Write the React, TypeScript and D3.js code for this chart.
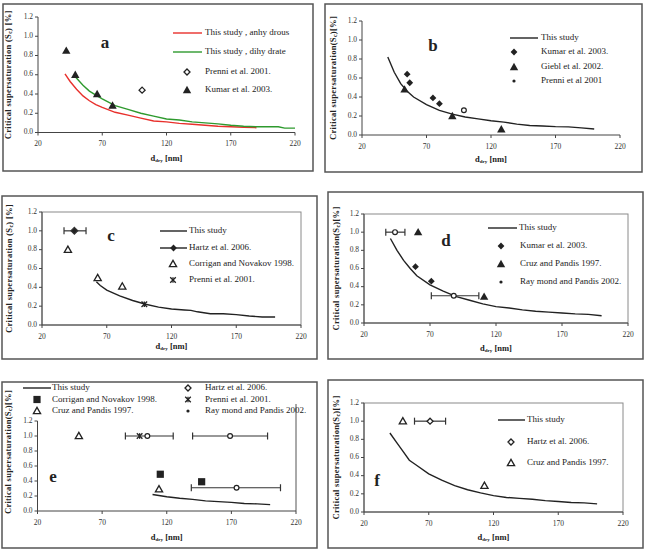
import * as d3 from "d3";

type Pt = [number, number];
type Bar = { x: number; y: number; lo: number; hi: number };

const X_TICKS = [20, 70, 120, 170, 220];
const Y_TICKS = [0, 0.2, 0.4, 0.6, 0.8, 1.0, 1.2];

// (a) model curves for both forms, plus measurements
const aAnhydrous: Pt[] = [
  [41, 0.61], [45, 0.53], [50, 0.45], [55, 0.38], [60, 0.33], [65, 0.29], [70, 0.26],
  [80, 0.21], [90, 0.18], [100, 0.15], [110, 0.12], [120, 0.11], [130, 0.095],
  [140, 0.085], [150, 0.075], [160, 0.065], [170, 0.06], [180, 0.055], [190, 0.05],
];
const aDihydrate: Pt[] = [
  [49, 0.58], [55, 0.49], [60, 0.43], [66, 0.38], [70, 0.35], [80, 0.28], [90, 0.24],
  [100, 0.2], [110, 0.17], [120, 0.14], [130, 0.13], [140, 0.11], [150, 0.1], [160, 0.09],
  [170, 0.075], [180, 0.065], [190, 0.06], [200, 0.06], [207, 0.06], [212, 0.045], [220, 0.045],
];
const aPrenni: Pt[] = [[101, 0.44]];
const aKumar: Pt[] = [[42, 0.85], [49, 0.6], [66, 0.4], [78, 0.28]];

// (b)
const bStudy: Pt[] = [
  [40, 0.82], [45, 0.66], [50, 0.54], [55, 0.46], [60, 0.4], [70, 0.32], [80, 0.26],
  [90, 0.22], [100, 0.19], [110, 0.17], [120, 0.15], [130, 0.135], [140, 0.115],
  [150, 0.1], [160, 0.095], [170, 0.088], [180, 0.085], [190, 0.075], [200, 0.063],
];
const bKumar: Pt[] = [[55, 0.64], [57, 0.55], [75, 0.39], [80, 0.33]];
const bGiebl: Pt[] = [[53, 0.48], [90, 0.2], [128, 0.06]];
const bPrenni: Pt[] = [[99, 0.26]];

// (c)
const cStudy: Pt[] = [
  [62, 0.46], [65, 0.42], [70, 0.37], [80, 0.31], [90, 0.26], [100, 0.22], [110, 0.19],
  [120, 0.17], [130, 0.16], [135, 0.155], [140, 0.14], [150, 0.12], [160, 0.12],
  [170, 0.11], [180, 0.095], [190, 0.085], [200, 0.085],
];
const cHartz: Bar[] = [{ x: 45, y: 1.0, lo: 37, hi: 54 }];
const cCorrigan: Pt[] = [[40, 0.8], [63, 0.5], [82, 0.41]];
const cPrenni: Pt[] = [[99, 0.22]];

// (d)
const dStudy: Pt[] = [
  [40, 0.93], [45, 0.8], [50, 0.69], [55, 0.6], [60, 0.52], [70, 0.42], [80, 0.35],
  [90, 0.29], [100, 0.25], [110, 0.21], [120, 0.18], [130, 0.165], [140, 0.145],
  [150, 0.13], [160, 0.12], [170, 0.11], [180, 0.1], [190, 0.095], [200, 0.08],
];
const dKumar: Pt[] = [[59, 0.62], [71, 0.46]];
const dCruz: Pt[] = [[61, 1.0], [111, 0.29]];
const dRaymond: Bar[] = [
  { x: 43.5, y: 1.0, lo: 36.5, hi: 51 },
  { x: 88, y: 0.3, lo: 71, hi: 107 },
];

// (e)
const eStudy: Pt[] = [
  [109, 0.22], [120, 0.19], [130, 0.17], [140, 0.155], [150, 0.135], [160, 0.125],
  [170, 0.115], [180, 0.1], [190, 0.095], [200, 0.085],
];
const eCorrigan: Pt[] = [[115, 0.49], [147, 0.39]];
const ePrenni: Pt[] = [[99, 1.0]];
const eCruz: Pt[] = [[52, 1.0], [114, 0.29]];
const eHartz: Bar[] = [
  { x: 105, y: 1.0, lo: 88, hi: 125 },
  { x: 169, y: 1.0, lo: 140, hi: 198 },
];
const eRaymond: Bar[] = [{ x: 174, y: 0.31, lo: 139, hi: 208 }];

// (f)
const fStudy: Pt[] = [
  [40, 0.87], [45, 0.77], [50, 0.67], [55, 0.57], [60, 0.52], [70, 0.42], [80, 0.35],
  [90, 0.29], [100, 0.245], [110, 0.21], [120, 0.18], [130, 0.16], [140, 0.15],
  [150, 0.14], [160, 0.125], [170, 0.115], [180, 0.105], [190, 0.1], [200, 0.09],
];
const fHartz: Bar[] = [{ x: 71, y: 1.0, lo: 59, hi: 83 }];
const fCruz: Pt[] = [[50, 1.0], [113, 0.29]];

const FONT = "'Liberation Serif', 'Times New Roman', serif";
const INK = "#222";

function Marker({ shape, x, y }: { shape: string; x: number; y: number }) {
  switch (shape) {
    case "triangle": {
      const s = 4.2;
      return <polygon points={`${x},${y - s} ${x + s},${y + s * 0.75} ${x - s},${y + s * 0.75}`} fill={INK} />;
    }
    case "triangleOpen": {
      const s = 3.6;
      return (
        <polygon points={`${x},${y - s} ${x + s},${y + s * 0.75} ${x - s},${y + s * 0.75}`}
          fill="white" stroke={INK} strokeWidth={1.3} />
      );
    }
    case "diamond": {
      const s = 3.4;
      return <polygon points={`${x},${y - s} ${x + s},${y} ${x},${y + s} ${x - s},${y}`} fill={INK} />;
    }
    case "diamondOpen": {
      const s = 3;
      return (
        <polygon points={`${x},${y - s} ${x + s},${y} ${x},${y + s} ${x - s},${y}`}
          fill="white" stroke={INK} strokeWidth={1.3} />
      );
    }
    case "circleOpen":
      return <circle cx={x} cy={y} r={2.4} fill="white" stroke={INK} strokeWidth={1.2} />;
    case "dot":
      return <circle cx={x} cy={y} r={1.6} fill={INK} />;
    case "square":
      return <rect x={x - 3.6} y={y - 3.6} width={7.2} height={7.2} fill={INK} />;
    case "star": {
      const s = 2.8;
      return (
        <g stroke={INK} strokeWidth={1.3}>
          <line x1={x - s} y1={y - s} x2={x + s} y2={y + s} />
          <line x1={x - s} y1={y + s} x2={x + s} y2={y - s} />
          <line x1={x} y1={y - s} x2={x} y2={y + s} />
        </g>
      );
    }
    default:
      return null;
  }
}

type Series =
  | { kind: "line"; data: Pt[]; color: string }
  | { kind: "points"; data: Pt[]; shape: string }
  | { kind: "bars"; data: Bar[]; shape: string };

type LegendItem = {
  label: string;
  y: number;
  tx: number;
  line?: [number, number];
  color?: string;
  shape?: string;
  mx?: number;
};

type PanelCfg = {
  tag: string;
  tagPos: [number, number];
  box: [number, number, number, number];
  plot: { left: number; right: number; top: number; bottom: number };
  frame: "none" | "full" | "right";
  frameTop?: number;
  yTitle: string;
  yTitleX: number;
  yTitleY?: number;
  xTitleY: number;
  series: Series[];
  legend: LegendItem[];
};

function YTitle({ x, y, text }: { x: number; y: number; text: string }) {
  const [pre, post] = text.split("|");
  return (
    <text transform={`rotate(-90, ${x}, ${y})`} x={x} y={y} textAnchor="middle" dominantBaseline="middle"
      fontFamily={FONT} fontWeight="bold" fontSize={8.5} letterSpacing={0.3} fill={INK}>
      {pre}
      <tspan fontSize={6} dy={2}>c</tspan>
      <tspan dy={-2}>{post}</tspan>
    </text>
  );
}

function Panel({ cfg }: { cfg: PanelCfg }) {
  const { plot } = cfg;
  const x = d3.scaleLinear().domain([20, 220]).range([plot.left, plot.right]);
  const y = d3.scaleLinear().domain([0, 1.2]).range([plot.bottom, plot.top]);
  const line = d3.line<Pt>().x((d) => x(d[0])).y((d) => y(d[1]));
  const fmt = d3.format(".1f");
  const [bx0, by0, bx1, by1] = cfg.box;
  const midX = (plot.left + plot.right) / 2;

  return (
    <g>
      <rect x={bx0} y={by0} width={bx1 - bx0} height={by1 - by0} fill="white" stroke="#555" strokeWidth={1.5} />

      {cfg.frame === "full" && (
        <rect x={plot.left} y={plot.top} width={plot.right - plot.left} height={plot.bottom - plot.top}
          fill="none" stroke="#8a8a8a" strokeWidth={1} />
      )}
      {cfg.frame === "right" && (
        <line x1={plot.right} x2={plot.right} y1={cfg.frameTop} y2={plot.bottom} stroke="#555" strokeWidth={1} />
      )}

      {/* axes */}
      <line x1={plot.left} x2={plot.left} y1={plot.top} y2={plot.bottom} stroke="#444" strokeWidth={1} />
      <line x1={plot.left} x2={plot.right} y1={plot.bottom} y2={plot.bottom} stroke="#444" strokeWidth={1} />
      {Y_TICKS.map((t) => (
        <g key={"y" + t}>
          <line x1={plot.left - 3} x2={plot.left} y1={y(t)} y2={y(t)} stroke="#444" />
          <text x={plot.left - 5} y={y(t)} textAnchor="end" dominantBaseline="middle"
            fontFamily={FONT} fontSize={7.5} fill="#333">{fmt(t)}</text>
        </g>
      ))}
      {X_TICKS.map((t) => (
        <g key={"x" + t}>
          <line x1={x(t)} x2={x(t)} y1={plot.bottom} y2={plot.bottom + 3} stroke="#444" />
          <text x={x(t)} y={plot.bottom + 12} textAnchor="middle" dominantBaseline="middle"
            fontFamily={FONT} fontSize={7.5} fill="#333">{t}</text>
        </g>
      ))}

      <YTitle x={cfg.yTitleX} y={cfg.yTitleY ?? (plot.top + plot.bottom) / 2} text={cfg.yTitle} />
      <text x={midX} y={cfg.xTitleY} textAnchor="middle" dominantBaseline="middle"
        fontFamily={FONT} fontWeight="bold" fontSize={8.5} fill={INK}>
        d<tspan fontSize={5} dy={2}>dry</tspan><tspan dy={-2}> [nm]</tspan>
      </text>

      {/* data */}
      {cfg.series.map((s, i) => {
        if (s.kind === "line")
          return <path key={i} d={line(s.data) ?? ""} fill="none" stroke={s.color} strokeWidth={1.4} />;
        if (s.kind === "points")
          return <g key={i}>{s.data.map((d, j) => <Marker key={j} shape={s.shape} x={x(d[0])} y={y(d[1])} />)}</g>;
        return (
          <g key={i}>
            {s.data.map((d, j) => (
              <g key={j} stroke="#333" strokeWidth={1.2}>
                <line x1={x(d.lo)} x2={x(d.hi)} y1={y(d.y)} y2={y(d.y)} />
                <line x1={x(d.lo)} x2={x(d.lo)} y1={y(d.y) - 3.5} y2={y(d.y) + 3.5} />
                <line x1={x(d.hi)} x2={x(d.hi)} y1={y(d.y) - 3.5} y2={y(d.y) + 3.5} />
                <Marker shape={s.shape} x={x(d.x)} y={y(d.y)} />
              </g>
            ))}
          </g>
        );
      })}

      {/* legend */}
      {cfg.legend.map((l, i) => (
        <g key={"l" + i}>
          {l.line && <line x1={l.line[0]} x2={l.line[1]} y1={l.y} y2={l.y} stroke={l.color ?? INK} strokeWidth={1.4} />}
          {l.shape && (
            <Marker shape={l.shape} x={l.mx ?? (l.line ? (l.line[0] + l.line[1]) / 2 : 0)} y={l.y} />
          )}
          <text x={l.tx} y={l.y} dominantBaseline="middle" fontFamily={FONT} fontSize={9} fill={INK}>{l.label}</text>
        </g>
      ))}

      <text x={cfg.tagPos[0]} y={cfg.tagPos[1]} textAnchor="middle" dominantBaseline="middle"
        fontFamily={FONT} fontWeight="bold" fontSize={17} fill={INK}>{cfg.tag}</text>
    </g>
  );
}

const panels: PanelCfg[] = [
  {
    tag: "a", tagPos: [105, 44], box: [3, 4, 313, 171],
    plot: { left: 38, right: 295, top: 17, bottom: 132.5 }, frame: "none",
    yTitle: "Critical supersaturation (S|) [%]", yTitleX: 9, xTitleY: 159,
    series: [
      { kind: "line", data: aAnhydrous, color: "#e8302c" },
      { kind: "line", data: aDihydrate, color: "#2e9a2e" },
      { kind: "points", data: aPrenni, shape: "diamondOpen" },
      { kind: "points", data: aKumar, shape: "triangle" },
    ],
    legend: [
      { label: "This study , anhy drous", y: 33, tx: 205, line: [173, 202], color: "#e8302c" },
      { label: "This study , dihy drate", y: 52, tx: 205, line: [173, 202], color: "#2e9a2e" },
      { label: "Prenni et al. 2001.", y: 72, tx: 205, shape: "diamondOpen", mx: 187 },
      { label: "Kumar et al. 2003.", y: 90, tx: 205, shape: "triangle", mx: 187 },
    ],
  },
  {
    tag: "b", tagPos: [433, 47], box: [325, 4, 642, 172],
    plot: { left: 362, right: 620, top: 21, bottom: 135 }, frame: "none",
    yTitle: "Critical supersaturation(S|)[%]", yTitleX: 334, xTitleY: 160,
    series: [
      { kind: "line", data: bStudy, color: INK },
      { kind: "points", data: bKumar, shape: "diamond" },
      { kind: "points", data: bGiebl, shape: "triangle" },
      { kind: "points", data: bPrenni, shape: "circleOpen" },
    ],
    legend: [
      { label: "This study", y: 38, tx: 541, line: [510, 538] },
      { label: "Kumar et al. 2003.", y: 52, tx: 541, shape: "diamond", mx: 514 },
      { label: "Giebl et al. 2002.", y: 67, tx: 541, shape: "triangle", mx: 514 },
      { label: "Prenni et al 2001", y: 81, tx: 541, shape: "dot", mx: 514 },
    ],
  },
  {
    tag: "c", tagPos: [111, 237], box: [2, 196, 317, 359],
    plot: { left: 42, right: 301, top: 212, bottom: 325 }, frame: "full",
    yTitle: "Critical supersaturation (S|) [%]", yTitleX: 10, xTitleY: 347,
    series: [
      { kind: "line", data: cStudy, color: INK },
      { kind: "bars", data: cHartz, shape: "diamond" },
      { kind: "points", data: cCorrigan, shape: "triangleOpen" },
      { kind: "points", data: cPrenni, shape: "star" },
    ],
    legend: [
      { label: "This study", y: 231, tx: 189, line: [160, 187] },
      { label: "Hartz et al. 2006.", y: 248, tx: 189, line: [160, 187], shape: "diamond" },
      { label: "Corrigan and Novakov 1998.", y: 264, tx: 189, shape: "triangleOpen", mx: 173 },
      { label: "Prenni et al. 2001.", y: 280, tx: 189, shape: "star", mx: 173 },
    ],
  },
  {
    tag: "d", tagPos: [446, 242], box: [328, 192, 643, 359],
    plot: { left: 364, right: 628, top: 214, bottom: 323 }, frame: "full",
    yTitle: "Critical supersaturation(S|)[%]", yTitleX: 337, xTitleY: 349,
    series: [
      { kind: "line", data: dStudy, color: INK },
      { kind: "points", data: dKumar, shape: "diamond" },
      { kind: "points", data: dCruz, shape: "triangle" },
      { kind: "bars", data: dRaymond, shape: "circleOpen" },
    ],
    legend: [
      { label: "This study", y: 228, tx: 519, line: [488, 517] },
      { label: "Kumar et al. 2003.", y: 246, tx: 520, shape: "diamond", mx: 501 },
      { label: "Cruz and Pandis 1997.", y: 264, tx: 520, shape: "triangle", mx: 501 },
      { label: "Ray mond and Pandis 2002.", y: 282, tx: 520, shape: "dot", mx: 501 },
    ],
  },
  {
    tag: "e", tagPos: [53, 478], box: [2, 382, 317, 548],
    plot: { left: 37.5, right: 296, top: 421, bottom: 511 }, frame: "right", frameTop: 404,
    yTitle: "Critical supersaturation(S|)[%]", yTitleX: 9, yTitleY: 452, xTitleY: 538,
    series: [
      { kind: "line", data: eStudy, color: INK },
      { kind: "points", data: eCorrigan, shape: "square" },
      { kind: "points", data: ePrenni, shape: "star" },
      { kind: "points", data: eCruz, shape: "triangleOpen" },
      { kind: "bars", data: eHartz, shape: "circleOpen" },
      { kind: "bars", data: eRaymond, shape: "circleOpen" },
    ],
    legend: [
      { label: "This study", y: 388, tx: 52, line: [23, 51] },
      { label: "Corrigan and Novakov 1998.", y: 399.5, tx: 52, shape: "square", mx: 37 },
      { label: "Cruz and Pandis 1997.", y: 411, tx: 52, shape: "triangleOpen", mx: 37 },
      { label: "Hartz et al. 2006.", y: 388, tx: 205, shape: "diamondOpen", mx: 188 },
      { label: "Prenni et al. 2001.", y: 399.5, tx: 205, shape: "star", mx: 188 },
      { label: "Ray mond and Pandis 2002.", y: 411, tx: 205, shape: "dot", mx: 188 },
    ],
  },
  {
    tag: "f", tagPos: [377, 482], box: [328, 380, 643, 548],
    plot: { left: 364, right: 623, top: 403, bottom: 512 }, frame: "full",
    yTitle: "Critical supersaturation(S|)[%]", yTitleX: 337, xTitleY: 538,
    series: [
      { kind: "line", data: fStudy, color: INK },
      { kind: "bars", data: fHartz, shape: "diamondOpen" },
      { kind: "points", data: fCruz, shape: "triangleOpen" },
    ],
    legend: [
      { label: "This study", y: 420, tx: 527, line: [498, 525] },
      { label: "Hartz et al. 2006.", y: 442, tx: 527, shape: "diamondOpen", mx: 511 },
      { label: "Cruz and Pandis 1997.", y: 463, tx: 527, shape: "triangleOpen", mx: 511 },
    ],
  },
];

export default function App() {
  return (
    <svg width={646} height={551} style={{ position: "absolute", left: 0, top: 0, background: "white" }}>
      {panels.map((p) => <Panel key={p.tag} cfg={p} />)}
    </svg>
  );
}
